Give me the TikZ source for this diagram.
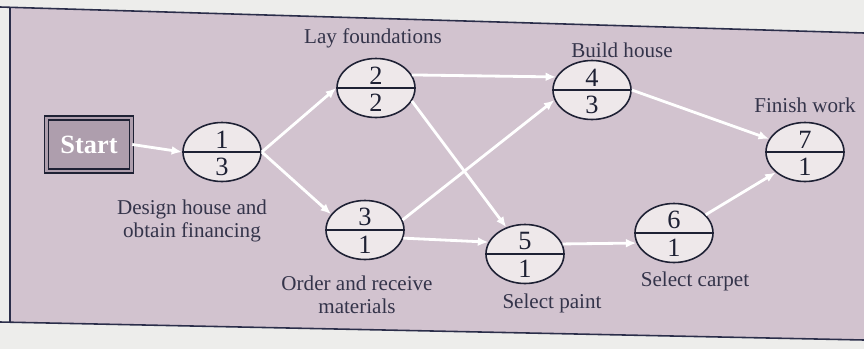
\documentclass[tikz,border=0pt]{standalone}
\usepackage{fontspec}
\setmainfont{Liberation Serif}
\usepackage{tikz}
\usetikzlibrary{arrows.meta, shapes.geometric}
\definecolor{Paper}     {HTML}{EDEDEB}
\definecolor{Panel}     {HTML}{D2C3CF}
\definecolor{PanelEdge} {HTML}{2B2E4A}
\definecolor{OvalFill}  {HTML}{EEE8EA}
\definecolor{StartFill} {HTML}{AE9EAD}
\definecolor{Ink}       {HTML}{1E2134}
\definecolor{DarkGrey}  {HTML}{34344A}

\begin{document}
\begin{tikzpicture}[
    activity/.style={ellipse, draw=Ink, fill=OvalFill, line width=0.9pt,
                     minimum width=1.56cm, minimum height=1.18cm, inner sep=0pt},
    num/.style={font=\fontsize{15}{15}\selectfont, text=Ink, inner sep=0pt},
    task/.style={font=\fontsize{12}{13}\selectfont, text=DarkGrey,
                 align=center, inner sep=0pt},
    flow/.style={draw=white, line width=1.6pt, -{Latex[length=6pt,width=5pt]}}
  ]
  \useasboundingbox (0,0) rectangle (17.28,-6.98);
  % Page and the network panel
  \fill[Paper] (0,0) rectangle (17.28,-6.98);
  \fill[Panel] (0.2,-0.15) -- (17.28,-0.66) -- (17.28,-6.80) -- (0.2,-6.44) -- cycle;
  \draw[PanelEdge, line width=0.9pt] (0,-0.14) -- (17.28,-0.66);
  \draw[PanelEdge, line width=0.9pt] (0,-6.44) -- (17.28,-6.80);
  \draw[PanelEdge, line width=0.6pt] (0.2,-0.15) -- (0.2,-6.44);

  % Start box
  \node[draw=Ink, line width=0.9pt, double=StartFill, double distance=1.6pt,
        fill=StartFill, text=white, font=\fontsize{15}{15}\selectfont\bfseries,
        minimum width=1.7cm, minimum height=1.06cm] (start) at (1.78,-2.89) {Start};

  % Activity nodes
  \node[activity] (a1) at (4.44,-3.04) {};
  \node[activity] (a2) at (7.52,-1.76) {};
  \node[activity] (a3) at (7.30,-4.60) {};
  \node[activity] (a4) at (11.84,-1.80) {};
  \node[activity] (a5) at (10.50,-5.08) {};
  \node[activity] (a6) at (13.48,-4.66) {};
  \node[activity] (a7) at (16.10,-3.04) {};
  \draw[Ink, line width=0.8pt] (a1.west) -- (a1.east);
  \draw[Ink, line width=0.8pt] (a2.west) -- (a2.east);
  \draw[Ink, line width=0.8pt] (a3.west) -- (a3.east);
  \draw[Ink, line width=0.8pt] (a4.west) -- (a4.east);
  \draw[Ink, line width=0.8pt] (a5.west) -- (a5.east);
  \draw[Ink, line width=0.8pt] (a6.west) -- (a6.east);
  \draw[Ink, line width=0.8pt] (a7.west) -- (a7.east);

  % Activity number over duration
  \node[num, above=2pt] (a1t) at (a1.center) {1};
  \node[num, below=3pt] (a1b) at (a1.center) {3};
  \node[num, above=2pt] (a2t) at (a2.center) {2};
  \node[num, below=3pt] (a2b) at (a2.center) {2};
  \node[num, above=2pt] (a3t) at (a3.center) {3};
  \node[num, below=3pt] (a3b) at (a3.center) {1};
  \node[num, above=2pt] (a4t) at (a4.center) {4};
  \node[num, below=3pt] (a4b) at (a4.center) {3};
  \node[num, above=2pt] (a5t) at (a5.center) {5};
  \node[num, below=3pt] (a5b) at (a5.center) {1};
  \node[num, above=2pt] (a6t) at (a6.center) {6};
  \node[num, below=3pt] (a6b) at (a6.center) {1};
  \node[num, above=2pt] (a7t) at (a7.center) {7};
  \node[num, below=3pt] (a7b) at (a7.center) {1};

  % Task names
  \node[task] (l1) at (3.84,-4.42) {Design house and\\obtain financing};
  \node[task] (l2) at (7.46,-0.76) {Lay foundations};
  \node[task] (l3) at (7.14,-5.90) {Order and receive\\materials};
  \node[task] (l4) at (12.44,-1.00) {Build house};
  \node[task] (l5) at (11.04,-6.06) {Select paint};
  \node[task] (l6) at (13.90,-5.62) {Select carpet};
  \node[task] (l7) at (16.10,-2.10) {Finish work};

  % Precedence arrows
  \draw[flow] (start.east) -- (a1.west);
  \draw[flow] (a1.east) -- (a2.west);
  \draw[flow] (a1.east) -- (a3.155);
  \draw[flow] (a2.20) -- (a4.160);
  \draw[flow] (a2.-20) -- (a5.125);
  \draw[flow] (a3.-12) -- (a5.162);
  \draw[flow] (a3.15) -- (a4.195);
  \draw[flow] (a5.15) -- (a6.195);
  \draw[flow] (a4.east) -- (a7.160);
  \draw[flow] (a6.30) -- (a7.215);
\end{tikzpicture}
\end{document}
